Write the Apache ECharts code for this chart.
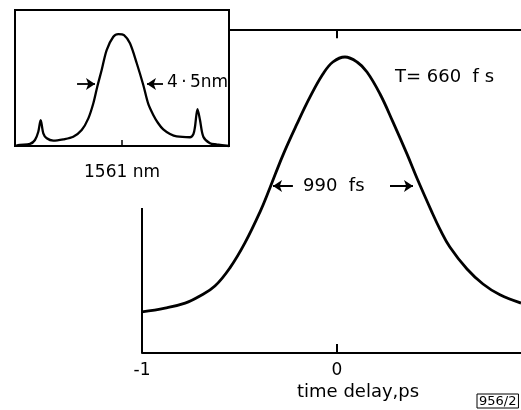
<!DOCTYPE html>
<html><head><meta charset="utf-8">
<script src="https://cdn.jsdelivr.net/npm/echarts@6/dist/echarts.min.js"></script>
<style>html,body{margin:0;padding:0;background:#fff}#c{width:521px;height:410px}</style>
</head><body><div id="c"></div>
<script>
// Main autocorrelation trace (time delay in ps, normalised intensity)
const delayPs = [-1.000,-0.882,-0.779,-0.703,-0.626,-0.549,-0.472,-0.395,-0.344,-0.277,-0.205,-0.138,-0.072,-0.021,0.041,0.103,0.154,0.221,0.287,0.359,0.410,0.487,0.528,0.579,0.667,0.749,0.836,0.944];
const autocorr = [0.140,0.153,0.170,0.194,0.228,0.290,0.375,0.480,0.562,0.674,0.780,0.872,0.950,0.991,1.008,0.991,0.957,0.882,0.787,0.678,0.596,0.480,0.422,0.361,0.286,0.235,0.198,0.170];
// Inset spectrum (wavelength nm, normalised intensity)
const wavelengthNm = [1552.00,1552.42,1553.26,1553.68,1553.96,1554.16,1554.38,1554.67,1555.22,1556.06,1556.90,1557.61,1558.17,1558.59,1558.92,1559.29,1559.71,1560.27,1560.69,1561.17,1561.67,1562.24,1562.79,1563.21,1563.63,1564.03,1564.47,1565.04,1565.60,1566.72,1567.01,1567.14,1567.35,1567.56,1567.84,1568.40,1568.96,1570.00];
const spectrum = [0,0.009,0.018,0.053,0.126,0.229,0.112,0.068,0.047,0.059,0.082,0.141,0.244,0.377,0.523,0.671,0.847,0.964,0.988,0.979,0.906,0.730,0.538,0.371,0.274,0.203,0.146,0.106,0.084,0.077,0.106,0.170,0.326,0.229,0.082,0.024,0.015,0];
const delayTicks = [-1, 0];
const wavelengthTicks = [1561];

const FONT = '"DejaVu Sans", sans-serif';
const mainData = delayPs.map((x, i) => [x, autocorr[i]]);
const insetData = wavelengthNm.map((x, i) => [x, spectrum[i]]);

const black = '#000';
const seg = (a, b) => [{coord: a, symbol: 'none'}, {coord: b, symbol: 'none'}];
const arrow = (tail, tip) => [{coord: tail, symbol: 'none'}, {coord: tip, symbol: 'arrow', symbolSize: 9}];

const chart = echarts.init(document.getElementById('c'), null, {renderer: 'canvas'});
chart.setOption({
  animation: false,
  backgroundColor: '#fff',
  grid: [
    {left: 142, right: 0, top: 30, bottom: 57, show: false},
    {left: 15, top: 10, width: 214, height: 136, show: true, borderColor: black, borderWidth: 2, backgroundColor: 'transparent'}
  ],
  xAxis: [
    {type: 'value', gridIndex: 0, min: -1, max: 0.944,
     axisLine: {show: true, onZero: false, lineStyle: {color: black, width: 2}},
     axisTick: {show: true, inside: true, length: 9, customValues: [0], lineStyle: {color: black, width: 2}},
     axisLabel: {show: true, customValues: delayTicks, margin: 9, color: black, fontSize: 17, fontFamily: FONT},
     splitLine: {show: false}},
    {type: 'value', gridIndex: 1, min: 1552, max: 1570,
     axisLine: {show: false},
     axisTick: {show: true, inside: true, length: 6, customValues: wavelengthTicks, lineStyle: {color: black, width: 1.5}},
     axisLabel: {show: true, customValues: wavelengthTicks, formatter: v => String(v) + ' nm', margin: 18, color: black, fontSize: 17, fontFamily: FONT},
     splitLine: {show: false}}
  ],
  yAxis: [
    {type: 'value', gridIndex: 0, min: 0, max: 1.1, axisLine: {show: false}, axisTick: {show: false}, axisLabel: {show: false}, splitLine: {show: false}},
    {type: 'value', gridIndex: 1, min: 0, max: 1.2, axisLine: {show: false}, axisTick: {show: false}, axisLabel: {show: false}, splitLine: {show: false}}
  ],
  series: [
    {type: 'line', xAxisIndex: 0, yAxisIndex: 0, data: mainData, showSymbol: false, smooth: 0.4, clip: false,
     lineStyle: {color: black, width: 2.8},
     markLine: {silent: true, animation: false, label: {show: false}, lineStyle: {color: black, width: 2, type: 'solid'},
       data: [
         seg([-1, 0], [-1, 0.494]),
         seg([-0.549, 1.1], [0.944, 1.1]),
         seg([0, 1.1], [0, 1.072]),
         arrow([-0.226, 0.569], [-0.328, 0.569]),
         arrow([0.272, 0.569], [0.390, 0.569])
       ]}},
    {type: 'line', xAxisIndex: 1, yAxisIndex: 1, data: insetData, showSymbol: false, smooth: 0.3, clip: false,
     lineStyle: {color: black, width: 2.3},
     markLine: {silent: true, animation: false, label: {show: false}, lineStyle: {color: black, width: 1.8, type: 'solid'},
       data: [
         arrow([1557.22, 0.547], [1558.73, 0.547]),
         arrow([1564.45, 0.547], [1563.10, 0.547])
       ]}}
  ],
  graphic: [
    {type: 'text', x: 395, y: 77, style: {text: 'T= 660  f s', font: '18px ' + FONT, fill: black, verticalAlign: 'middle'}},
    {type: 'text', x: 303, y: 186, style: {text: '990  fs', font: '18px ' + FONT, fill: black, verticalAlign: 'middle'}},
    {type: 'text', x: 167, y: 83, style: {text: '4\u2009·\u20095nm', font: '17px ' + FONT, fill: black, verticalAlign: 'middle'}},
    {type: 'text', x: 297, y: 392, style: {text: 'time delay,ps', font: '18px ' + FONT, fill: black, verticalAlign: 'middle'}},
    {type: 'text', x: 477, y: 394, style: {text: '956/2', font: '13px ' + FONT, fill: black, borderColor: black, borderWidth: 1, padding: [1, 2, 0, 2]}}
  ]
});
</script>
</body></html>
